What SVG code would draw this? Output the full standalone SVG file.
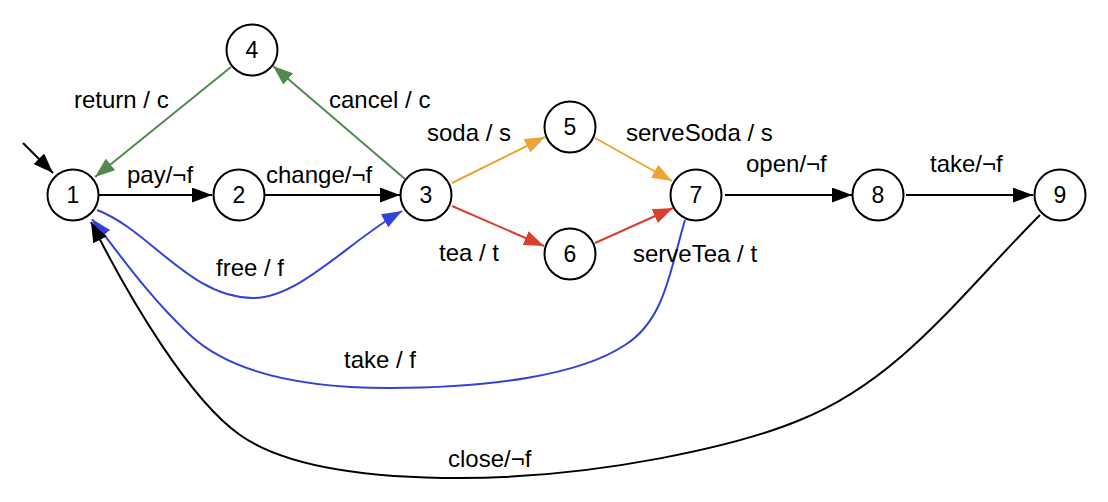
<svg xmlns="http://www.w3.org/2000/svg" width="1108" height="502" viewBox="0 0 1108 502">
<defs>
<style>
.node circle{fill:#fff;stroke:#000;stroke-width:2}
.node text{font-family:"Liberation Sans",Arial,sans-serif;font-size:23px;text-anchor:middle;fill:#000}
.lbl{font-family:"Liberation Sans",Arial,sans-serif;font-size:24px;fill:#000}
.e{fill:none;stroke-width:2}
.k{stroke:#000}.g{stroke:#53884f}.o{stroke:#eca534}.r{stroke:#d83f2c}.b{stroke:#3242d6}
</style>
<marker id="ak" markerUnits="userSpaceOnUse" markerWidth="21" markerHeight="15" refX="20" refY="7.5" orient="auto"><path d="M0,0L20,7.5L0,15z" fill="#000"/></marker>
<marker id="ag" markerUnits="userSpaceOnUse" markerWidth="21" markerHeight="15" refX="20" refY="7.5" orient="auto"><path d="M0,0L20,7.5L0,15z" fill="#53884f"/></marker>
<marker id="ao" markerUnits="userSpaceOnUse" markerWidth="21" markerHeight="15" refX="20" refY="7.5" orient="auto"><path d="M0,0L20,7.5L0,15z" fill="#eca534"/></marker>
<marker id="ar" markerUnits="userSpaceOnUse" markerWidth="21" markerHeight="15" refX="20" refY="7.5" orient="auto"><path d="M0,0L20,7.5L0,15z" fill="#d83f2c"/></marker>
<marker id="ab" markerUnits="userSpaceOnUse" markerWidth="21" markerHeight="15" refX="20" refY="7.5" orient="auto"><path d="M0,0L20,7.5L0,15z" fill="#3242d6"/></marker>
</defs>
<rect width="1108" height="502" fill="#fff"/>
<g id="connectors">
<path class="e k" d="M23,143L53,173" marker-end="url(#ak)"/>
<path class="e k" d="M99,195L212,195" marker-end="url(#ak)"/>
<path class="e k" d="M265,195L400,195" marker-end="url(#ak)"/>
<path class="e g" d="M405,179L273,66" marker-end="url(#ag)"/>
<path class="e g" d="M231,67L95,177" marker-end="url(#ag)"/>
<path class="e o" d="M452,183L545,137" marker-end="url(#ao)"/>
<path class="e o" d="M595,138L672,181" marker-end="url(#ao)"/>
<path class="e r" d="M452,206L544,246" marker-end="url(#ar)"/>
<path class="e r" d="M595,243L673,208" marker-end="url(#ar)"/>
<path class="e k" d="M725,195L852,195" marker-end="url(#ak)"/>
<path class="e k" d="M906,195L1033,195" marker-end="url(#ak)"/>
<path class="e b" d="M97,210C150,230 190,298 253,298C300,298 350,240 402,211" marker-end="url(#ab)"/>
<path class="e b" d="M685,220C670,270 665,320 625,345C580,375 490,388 390,388C300,388 230,372 190,335C150,298 120,255 92,219" marker-end="url(#ab)"/>
<path class="e k" d="M1040,215C960,295 900,380 800,420C740,445 600,478 460,478C380,478 290,470 240,435C190,400 130,300 91,222" marker-end="url(#ak)"/>
</g>
<g id="labels">
<text class="lbl" x="74" y="108">return / c</text>
<text class="lbl" x="329" y="108">cancel / c</text>
<text class="lbl" x="427" y="141">soda / s</text>
<text class="lbl" x="127" y="183">pay/¬f</text>
<text class="lbl" x="266" y="183">change/¬f</text>
<text class="lbl" x="626" y="141">serveSoda / s</text>
<text class="lbl" x="439" y="261">tea / t</text>
<text class="lbl" x="633" y="262">serveTea / t</text>
<text class="lbl" x="746" y="172">open/¬f</text>
<text class="lbl" x="930" y="172">take/¬f</text>
<text class="lbl" x="216" y="276">free / f</text>
<text class="lbl" x="344" y="368">take / f</text>
<text class="lbl" x="448" y="467">close/¬f</text>
</g>
<g id="n1" class="node"><circle cx="73" cy="195" r="25.5"/><text x="73" y="203">1</text></g>
<g id="n2" class="node"><circle cx="239" cy="195" r="25.5"/><text x="239" y="203">2</text></g>
<g id="n3" class="node"><circle cx="426" cy="195" r="25.5"/><text x="426" y="203">3</text></g>
<g id="n4" class="node"><circle cx="252" cy="50" r="25.5"/><text x="252" y="58">4</text></g>
<g id="n5" class="node"><circle cx="570" cy="127" r="25.5"/><text x="570" y="135">5</text></g>
<g id="n6" class="node"><circle cx="570" cy="254" r="25.5"/><text x="570" y="262">6</text></g>
<g id="n7" class="node"><circle cx="696" cy="195" r="25.5"/><text x="696" y="203">7</text></g>
<g id="n8" class="node"><circle cx="878" cy="195" r="25.5"/><text x="878" y="203">8</text></g>
<g id="n9" class="node"><circle cx="1060" cy="195" r="25.5"/><text x="1060" y="203">9</text></g>
</svg>
